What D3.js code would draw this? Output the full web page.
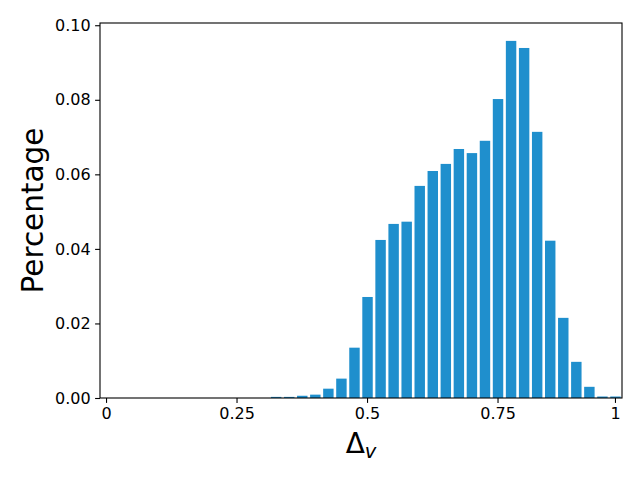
<!DOCTYPE html>
<html>
<head>
<meta charset="utf-8">
<script src="https://cdn.jsdelivr.net/npm/d3@7"></script>
<style>
  html, body { margin: 0; padding: 0; background: #fff; }
  svg { display: block; font-family: "DejaVu Sans", sans-serif; }
</style>
</head>
<body>
<svg id="chart" width="640" height="480"></svg>
<script>
// Bin indices (40 histogram bins over [0, 1])
const bins = [0,1,2,3,4,5,6,7,8,9,10,11,12,13,14,15,16,17,18,19,
              20,21,22,23,24,25,26,27,28,29,30,31,32,33,34,35,36,37,38,39];
// Fraction of samples in each bin
const values = [0,0,0,0,0,0,0,0,0,0,0,0,0,
                0.0003,0.0003,0.0006,0.0009,0.0025,0.0052,0.0135,
                0.0271,0.0424,0.0467,0.0473,0.0569,0.0609,0.0628,0.0668,0.0657,0.0690,
                0.0802,0.0958,0.0939,0.0714,0.0422,0.0215,0.0097,0.0030,0.0004,0.0004];
// X tick positions (bin index) and labels
const xTickBins = [0, 10, 20, 30, 39];
const xTickLabels = ["0", "0.25", "0.5", "0.75", "1"];
// Y ticks
const yTicks = [0, 0.02, 0.04, 0.06, 0.08, 0.10];
const yMax = 0.1006;

const svg = d3.select("#chart");
const L = 100, R = 622, T = 23, B = 398;
const barColor = "#1f8fcd";

const x = d3.scaleBand().domain(bins).range([L, R]).paddingInner(0.2).paddingOuter(0.1);
const y = d3.scaleLinear().domain([0, yMax]).range([B, T]);

// Bars
svg.append("g").selectAll("rect")
  .data(bins.map((b, i) => ({ b, v: values[i] })))
  .join("rect")
  .attr("x", d => x(d.b))
  .attr("width", x.bandwidth())
  .attr("y", d => y(d.v))
  .attr("height", d => B - y(d.v))
  .attr("fill", barColor);

// Frame
svg.append("rect")
  .attr("x", L).attr("y", T).attr("width", R - L).attr("height", B - T)
  .attr("fill", "none").attr("stroke", "#000").attr("stroke-width", 1.1);

// Y axis
const yAxis = d3.axisLeft(y).tickValues(yTicks).tickFormat(d3.format(".2f"))
  .tickSize(4.9).tickPadding(4.5);
const gy = svg.append("g").attr("transform", `translate(${L},0)`).call(yAxis);
gy.select(".domain").remove();
gy.selectAll("line").attr("stroke", "#000").attr("stroke-width", 1.1);
gy.selectAll("text").attr("font-size", "16px").attr("fill", "#000")
  .attr("font-family", "DejaVu Sans");

// X axis
const xAxis = d3.axisBottom(x).tickValues(xTickBins)
  .tickFormat((d, i) => xTickLabels[i]).tickSize(4.9).tickPadding(4.5);
const gx = svg.append("g").attr("transform", `translate(0,${B})`).call(xAxis);
gx.select(".domain").remove();
gx.selectAll("line").attr("stroke", "#000").attr("stroke-width", 1.1);
gx.selectAll("text").attr("font-size", "16px").attr("fill", "#000")
  .attr("font-family", "DejaVu Sans");

// Y label
svg.append("text")
  .attr("transform", `translate(43,${(T + B) / 2}) rotate(-90)`)
  .attr("text-anchor", "middle")
  .attr("font-size", "29.5px")
  .attr("fill", "#000")
  .text("Percentage");

// X label: Δ_v
const xl = svg.append("text")
  .attr("x", (L + R) / 2)
  .attr("y", 453)
  .attr("text-anchor", "middle")
  .attr("font-size", "28px")
  .attr("fill", "#000");
xl.append("tspan").text("Δ");
xl.append("tspan").attr("font-size", "19.5px").attr("font-style", "italic")
  .attr("dy", 5).text("v");
</script>
</body>
</html>
